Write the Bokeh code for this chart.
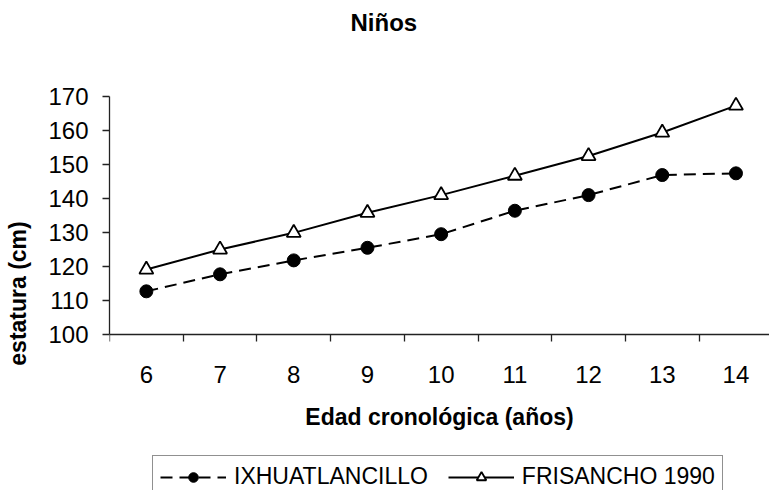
from bokeh.plotting import figure
from bokeh.models import FixedTicker, Legend, LegendItem, Range1d, Title
from bokeh.embed import file_html
from bokeh.resources import INLINE

ages = [6, 7, 8, 9, 10, 11, 12, 13, 14]
ixhuatlancillo = [112.7, 117.7, 121.8, 125.5, 129.5, 136.4, 141.0, 146.9, 147.4]
frisancho = [119.1, 125.0, 129.9, 135.8, 141.0, 146.7, 152.5, 159.4, 167.3]
y_ticks = [100, 110, 120, 130, 140, 150, 160, 170]

FONT = "Liberation Sans"
AX = "#222222"

# frame runs from the top of the value axis down to the bottom of the window;
# the category axis sits at y = 100 and the legend below it
p = figure(frame_width=660, frame_height=394, output_backend="svg", toolbar_location=None,
           x_range=Range1d(5.5, 14.455), y_range=Range1d(54.12, 170),
           min_border_left=109, min_border_right=0, min_border_top=96,
           min_border_bottom=0, outline_line_color=None)
p.background_fill_color = "white"
p.border_fill_color = "white"
p.grid.visible = False

p.title = Title(text="Niños\n\n", align="left", offset=241, text_font=FONT,
                text_color="black", text_font_size="24px", text_font_style="bold",
                vertical_align="bottom", standoff=13)

# y axis
p.yaxis.ticker = FixedTicker(ticks=y_ticks)
p.yaxis.bounds = (100, 170)
p.yaxis.minor_tick_line_color = None
p.yaxis.major_tick_out = 7
p.yaxis.major_tick_in = 0
p.yaxis.major_label_text_font = FONT
p.yaxis.major_label_text_font_size = "24px"
p.yaxis.major_label_standoff = 14
p.yaxis.axis_label = "estatura (cm)"
p.yaxis.axis_label_text_font = FONT
p.yaxis.axis_label_text_font_size = "23px"
p.yaxis.axis_label_text_font_style = "bold"
p.yaxis.axis_label_standoff = 14
p.yaxis.axis_line_color = AX
p.yaxis.axis_line_width = 1.3
p.yaxis.major_tick_line_color = AX
p.yaxis.major_tick_line_width = 1.3

# x axis at y = 100: labels at category centres, tick marks between categories
p.xaxis.fixed_location = 100
p.xaxis.ticker = FixedTicker(ticks=ages, minor_ticks=[a - 0.5 for a in ages])
p.xaxis.major_tick_out = 0
p.xaxis.major_tick_in = 0
p.xaxis.minor_tick_out = 7
p.xaxis.minor_tick_in = 0
p.xaxis.minor_tick_line_color = AX
p.xaxis.minor_tick_line_width = 1.3
p.xaxis.axis_line_color = AX
p.xaxis.axis_line_width = 1.3
p.xaxis.major_label_text_font = FONT
p.xaxis.major_label_text_font_size = "24px"
p.xaxis.major_label_standoff = 24
p.xaxis.axis_label = "Edad cronológica (años)"
p.xaxis.axis_label_text_font = FONT
p.xaxis.axis_label_text_font_size = "23px"
p.xaxis.axis_label_text_font_style = "bold"
p.xaxis.axis_label_standoff = 18
for ax in (p.xaxis, p.yaxis):
    ax.major_label_text_color = "black"
    ax.axis_label_text_color = "black"

# series
l1 = p.line(ages, ixhuatlancillo, line_color="black", line_width=2, line_dash="12 7")
c1 = p.scatter(ages, ixhuatlancillo, marker="circle", size=13, fill_color="black",
               line_color="black")
l2 = p.line(ages, frisancho, line_color="black", line_width=2)
c2 = p.scatter(ages, frisancho, marker="triangle", size=14, fill_color="white",
               line_color="black", line_width=1.8)

legend = Legend(items=[LegendItem(label="IXHUATLANCILLO", renderers=[l1, c1]),
                       LegendItem(label="FRISANCHO 1990", renderers=[l2, c2])],
                orientation="horizontal", location=(43, -8),
                label_text_font=FONT, label_text_font_size="23px",
                label_text_color="black",
                glyph_width=66, glyph_height=24, spacing=20,
                label_standoff=8, padding=7, margin=0,
                border_line_color=AX, border_line_width=1.3)
p.add_layout(legend, "center")

open("out.html", "w").write(file_html(p, INLINE))
